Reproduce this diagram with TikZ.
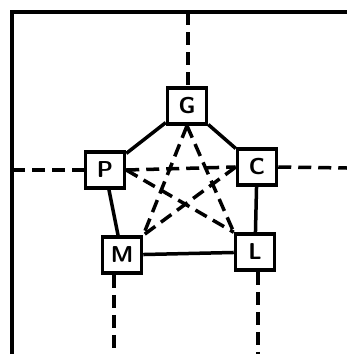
\documentclass[tikz,border=0pt]{standalone}
\begin{document}
\begin{tikzpicture}[x=1pt,y=-1pt,
  box/.style={draw,line width=3.5pt,minimum width=39pt,minimum height=36pt,inner sep=0pt,font=\sffamily\bfseries\fontsize{23}{23}\selectfont,fill=white},
  solidline/.style={line width=3.5pt},
  dline/.style={line width=3.5pt,dash pattern=on 13pt off 7pt},
  frame/.style={line width=3.5pt,line cap=rect}]
\useasboundingbox (0,0) rectangle (347,354);
\coordinate (tl) at (12,12);
\coordinate (tr) at (347,12);
\coordinate (bl) at (12,354);
\draw[frame] (bl) -- (tl) -- (tr);
% nodes
\node[box] (G) at (187,106) {G};
\node[box] (P) at (105,170) {P};
\node[box] (C) at (257,167) {C};
\node[box] (M) at (122,255) {M};
\node[box] (L) at (255,252) {L};
% outer solid pentagon
\draw[solidline] (G) -- (P);
\draw[solidline] (G) -- (C);
\draw[solidline] (P) -- (M);
\draw[solidline] (C) -- (L);
\draw[solidline] (M) -- (L);
% external dashed
\coordinate (gtop) at (188,12);
\coordinate (pleft) at (12,170);
\coordinate (cright) at (347,168);
\coordinate (mbot) at (114,354);
\coordinate (lbot) at (258,354);
\draw[dline] (gtop) -- (gtop |- G.north);
\draw[dline] (pleft) -- (P.west);
\draw[dline] (C.east) -- (cright);
\draw[dline] (mbot |- M.south) -- (mbot);
\draw[dline] (lbot |- L.south) -- (lbot);
% inner dashed pentagram
\draw[dline] (G.south) -- (M.north east);
\draw[dline] (G.south) -- (L.north west);
\draw[dline] (P.east) -- (C.west);
\draw[dline] (P.east) -- (L.north west);
\draw[dline] (C.west) -- (M.north east);
\end{tikzpicture}
\end{document}
